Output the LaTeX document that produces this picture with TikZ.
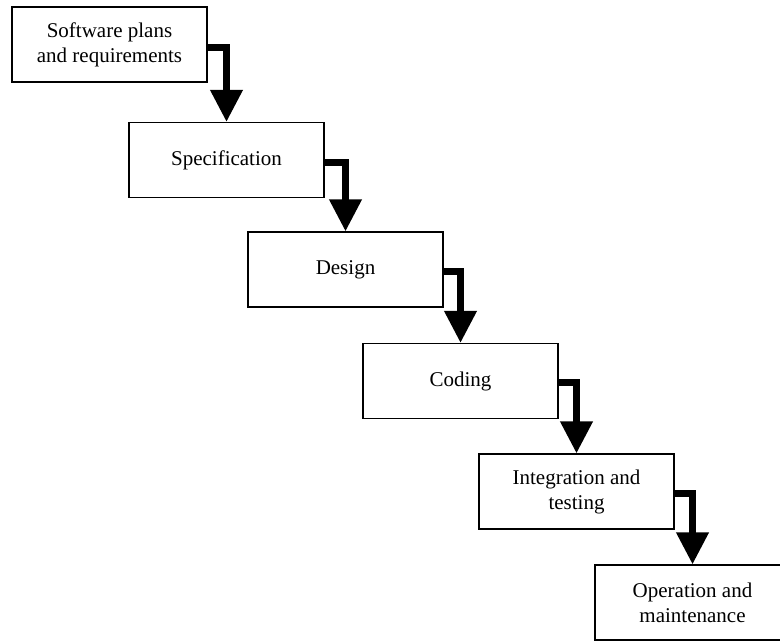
\documentclass[tikz,border=0pt]{standalone}
\usepackage{fontspec}
\setmainfont{Liberation Serif}
\usetikzlibrary{arrows.meta}

\begin{document}
\begin{tikzpicture}[x=0.5pt,y=-0.5pt,
% Estilo de las cajas
caja/.style={rectangle, draw=black, line width=0.6pt, fill=white, minimum width=97.5pt, minimum height=37.5pt, inner sep=0pt, align=center, font=\fontsize{10.5}{12.5}\selectfont},
% Estilo de las flechas
cascada/.style={-{Triangle[length=16pt,width=15.5pt]}, line width=3.5pt, line join=miter, color=black},
]
\clip (0,0) rectangle (780,643);
% Cajas
\node (plan) at (109.5,44.5) [caja]{Software plans\\and requirements};
\node (spec) at (226.5,160) [caja]{Specification};
\node (dis) at (345.5,269.5) [caja]{Design};
\node (cod) at (460.5,381) [caja]{Coding};
\node (int) at (576.5,491.5) [caja]{Integration and\\testing};
\node (op) at (692.5,602.5) [caja]{Operation and\\maintenance};

% Flechas
\draw[cascada] ([yshift=-1.5pt]plan.east) -| (spec.north);
\draw[cascada] ([yshift=-1pt]spec.east) -| (dis.north);
\draw[cascada] ([yshift=-1pt]dis.east) -| (cod.north);
\draw[cascada] ([yshift=-0.5pt]cod.east) -| (int.north);
\draw[cascada] ([yshift=-1pt]int.east) -| (op.north);
\end{tikzpicture}
\end{document}
